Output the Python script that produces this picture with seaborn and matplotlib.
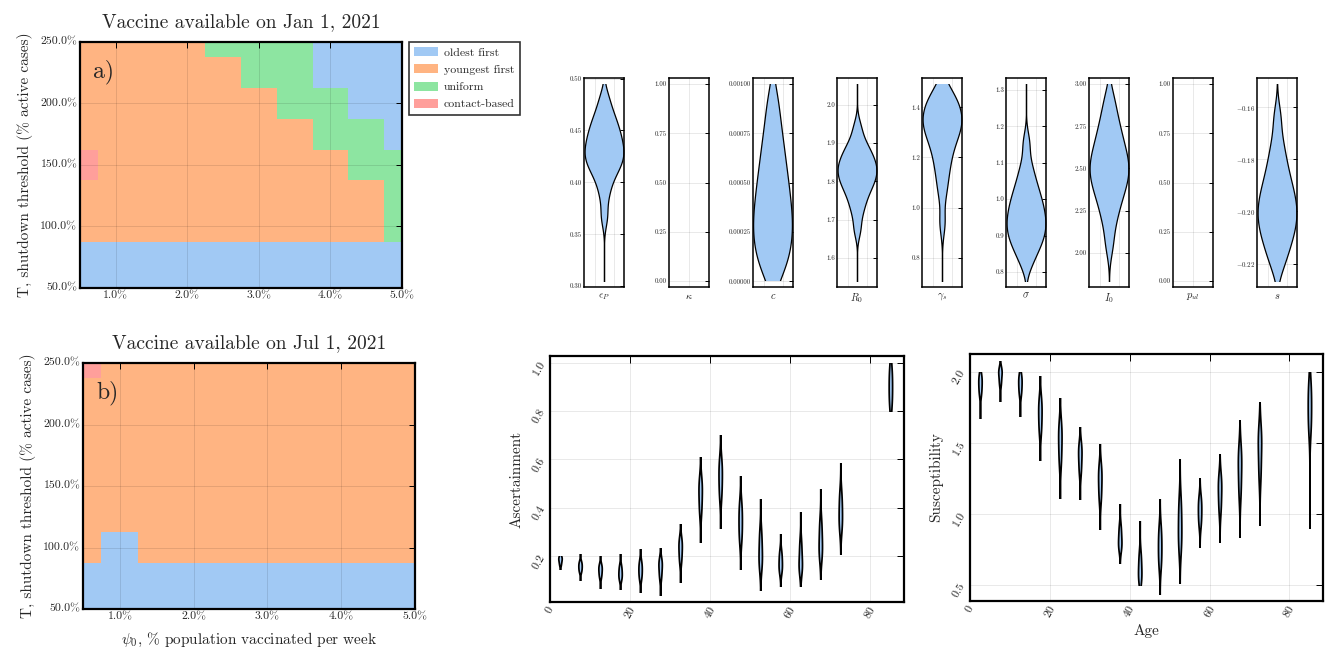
import numpy as np
import pandas as pd
import matplotlib
matplotlib.use("Agg")
import matplotlib.pyplot as plt
from matplotlib.colors import ListedColormap
from matplotlib.patches import Patch, Rectangle
import seaborn as sns

# ------------------------------------------------------------------
# Optimal vaccination strategy maps
# ------------------------------------------------------------------
strategies = ["oldest first", "youngest first", "uniform", "contact-based"]
psi_pct = [0.5, 1.0, 1.5, 2.0, 2.5, 3.0, 3.5, 4.0, 4.5, 5.0]
threshold_pct = [250, 225, 200, 175, 150, 125, 100, 75, 50]   # first row = top

# 0 = oldest first, 1 = youngest first, 2 = uniform, 3 = contact-based
best_jan = [
    [1, 1, 1, 1, 2, 2, 2, 0, 0, 0],
    [1, 1, 1, 1, 1, 2, 2, 0, 0, 0],
    [1, 1, 1, 1, 1, 1, 2, 2, 0, 0],
    [1, 1, 1, 1, 1, 1, 1, 2, 2, 0],
    [3, 1, 1, 1, 1, 1, 1, 1, 2, 2],
    [1, 1, 1, 1, 1, 1, 1, 1, 1, 2],
    [1, 1, 1, 1, 1, 1, 1, 1, 1, 2],
    [0, 0, 0, 0, 0, 0, 0, 0, 0, 0],
    [0, 0, 0, 0, 0, 0, 0, 0, 0, 0],
]
best_jul = [
    [3, 1, 1, 1, 1, 1, 1, 1, 1, 1],
    [1, 1, 1, 1, 1, 1, 1, 1, 1, 1],
    [1, 1, 1, 1, 1, 1, 1, 1, 1, 1],
    [1, 1, 1, 1, 1, 1, 1, 1, 1, 1],
    [1, 1, 1, 1, 1, 1, 1, 1, 1, 1],
    [1, 1, 1, 1, 1, 1, 1, 1, 1, 1],
    [1, 0, 1, 1, 1, 1, 1, 1, 1, 1],
    [0, 0, 0, 0, 0, 0, 0, 0, 0, 0],
    [0, 0, 0, 0, 0, 0, 0, 0, 0, 0],
]
psi_ticks = [1.0, 2.0, 3.0, 4.0, 5.0]
threshold_ticks = [50, 100, 150, 200, 250]

# ------------------------------------------------------------------
# Posterior samples (quantiles) and ranges of the global parameters
# ------------------------------------------------------------------
eps_p = [0.367, 0.387, 0.399, 0.4067, 0.4122, 0.4162, 0.4202, 0.4234,
         0.4265, 0.4297, 0.4333, 0.4369, 0.4406, 0.4446, 0.4486, 0.4531,
         0.4578, 0.4636, 0.4705, 0.4822]
kappa = []
c_rate = [0.000026, 0.000078, 0.000121, 0.000159, 0.000196, 0.000230,
          0.000263, 0.000296, 0.000331, 0.000366, 0.000402, 0.000441,
          0.000481, 0.000525, 0.000571, 0.000622, 0.000678, 0.000744,
          0.000821, 0.000928]
r0 = [1.6745, 1.7152, 1.739, 1.7572, 1.7726, 1.7838, 1.7941, 1.8035,
      1.8115, 1.8195, 1.8274, 1.8351, 1.8428, 1.8506, 1.86, 1.8694, 1.8802,
      1.8928, 1.9099, 1.9428]
gamma_s = [0.9414, 1.0554, 1.1138, 1.1574, 1.194, 1.2246, 1.2529,
           1.2732, 1.2934, 1.3095, 1.3235, 1.3375, 1.3515, 1.366, 1.3806,
           1.3951, 1.4121, 1.4305, 1.4488, 1.4773]
sigma = [0.8218, 0.8501, 0.8668, 0.8813, 0.8938, 0.9053, 0.916,
         0.9266, 0.9372, 0.9479, 0.9592, 0.9706, 0.9829, 0.9956, 1.0098,
         1.0248, 1.0436, 1.0661, 1.0969, 1.155]
i0 = [2.0483, 2.169, 2.2393, 2.2946, 2.3384, 2.3752, 2.4084, 2.4377,
      2.4653, 2.4915, 2.518, 2.5447, 2.574, 2.6044, 2.6392, 2.6778, 2.7211,
      2.7711, 2.8325, 2.9217]
p_ul = []
s_shift = [-0.22125, -0.2168, -0.2136, -0.2109, -0.2086, -0.2065,
           -0.2045, -0.20264, -0.20081, -0.1990, -0.1971, -0.19518, -0.19311,
           -0.19088, -0.18837, -0.18546, -0.18207, -0.17801, -0.17271,
           -0.16364]

param_labels = [r"$\epsilon_P$", r"$\kappa$", r"$c$", r"$R_0$", r"$\gamma_s$",
                r"$\sigma$", r"$I_0$", r"$p_{ul}$", r"$s$"]
param_samples = [eps_p, kappa, c_rate, r0, gamma_s, sigma, i0, p_ul, s_shift]
param_ranges = [(0.305, 0.495), None, (0.0, 0.001), (1.539, 2.055),
                (0.708, 1.492), (0.7752, 1.3165), (1.834, 3.0), None,
                (-0.2267, -0.151)]
param_ylims = [(0.299, 0.5006), (-0.03, 1.03), (-0.0000288, 0.00103),
               (1.524, 2.070), (0.684, 1.516), (0.759, 1.332),
               (1.798, 3.036), (-0.03, 1.03), (-0.229, -0.1488)]
param_ticks = [[0.30, 0.35, 0.40, 0.45, 0.50],
               [0.0, 0.25, 0.5, 0.75, 1.0],
               [0.0, 0.00025, 0.0005, 0.00075, 0.001],
               [1.6, 1.7, 1.8, 1.9, 2.0],
               [0.8, 1.0, 1.2, 1.4],
               [0.8, 0.9, 1.0, 1.1, 1.2, 1.3],
               [2.0, 2.25, 2.5, 2.75, 3.0],
               [0.0, 0.25, 0.5, 0.75, 1.0],
               [-0.22, -0.20, -0.18, -0.16]]
param_decimals = [2, 2, 5, 1, 1, 1, 2, 2, 2]

# ------------------------------------------------------------------
# Age-dependent posteriors: core samples and full ranges per age group
# ------------------------------------------------------------------
ages = [2.5, 7.5, 12.5, 17.5, 22.5, 27.5, 32.5, 37.5, 42.5, 47.5, 52.5,
        57.5, 62.5, 67.5, 72.5, 85.0]
asc_core = [
    [0.165, 0.178, 0.188, 0.195, 0.200],
    [0.137, 0.148, 0.159, 0.169, 0.179],
    [0.115, 0.130, 0.145, 0.156, 0.167],
    [0.105, 0.118, 0.131, 0.147, 0.163],
    [0.108, 0.127, 0.145, 0.162, 0.180],
    [0.111, 0.135, 0.159, 0.174, 0.189],
    [0.178, 0.206, 0.234, 0.254, 0.274],
    [0.380, 0.421, 0.461, 0.491, 0.520],
    [0.444, 0.487, 0.529, 0.563, 0.598],
    [0.266, 0.305, 0.344, 0.382, 0.419],
    [0.154, 0.184, 0.214, 0.258, 0.303],
    [0.135, 0.154, 0.173, 0.197, 0.221],
    [0.138, 0.158, 0.179, 0.220, 0.261],
    [0.196, 0.225, 0.255, 0.300, 0.345],
    [0.311, 0.345, 0.378, 0.420, 0.462],
    [0.820, 0.860, 0.900, 0.940, 0.980],
]
asc_range = [
    (0.148, 0.200), (0.104, 0.210), (0.070, 0.200), (0.066, 0.210),
    (0.053, 0.232), (0.039, 0.234), (0.094, 0.333), (0.259, 0.609),
    (0.317, 0.701), (0.149, 0.532), (0.063, 0.436), (0.079, 0.292),
    (0.076, 0.383), (0.107, 0.479), (0.211, 0.587), (0.800, 1.000),
]
sus_core = [
    [1.840, 1.880, 1.918, 1.950, 1.980],
    [1.910, 1.949, 1.988, 2.006, 2.024],
    [1.840, 1.880, 1.918, 1.950, 1.980],
    [1.574, 1.640, 1.706, 1.759, 1.811],
    [1.355, 1.437, 1.518, 1.578, 1.638],
    [1.289, 1.350, 1.412, 1.452, 1.492],
    [1.099, 1.167, 1.236, 1.288, 1.339],
    [0.750, 0.781, 0.813, 0.864, 0.915],
    [0.520, 0.560, 0.601, 0.660, 0.720],
    [0.632, 0.699, 0.766, 0.834, 0.902],
    [0.749, 0.828, 0.907, 1.002, 1.098],
    [0.921, 0.972, 1.024, 1.070, 1.116],
    [1.019, 1.092, 1.165, 1.216, 1.268],
    [1.132, 1.231, 1.330, 1.396, 1.462],
    [1.252, 1.361, 1.471, 1.534, 1.598],
    [1.580, 1.670, 1.753, 1.840, 1.920],
]
sus_range = [
    (1.676, 2.000), (1.793, 2.078), (1.687, 2.000), (1.377, 1.969),
    (1.111, 1.817), (1.104, 1.612), (0.893, 1.494), (0.655, 1.069),
    (0.500, 0.951), (0.432, 1.107), (0.512, 1.384), (0.766, 1.255),
    (0.799, 1.422), (0.836, 1.659), (0.923, 1.788), (0.902, 2.000),
]
age_ticks = [0, 20, 40, 60, 80]
asc_ticks = [0.2, 0.4, 0.6, 0.8, 1.0]
sus_ticks = [0.5, 1.0, 1.5, 2.0]

# ------------------------------------------------------------------
# Style
# ------------------------------------------------------------------
sns.set_theme(style="white")
plt.rcParams.update({
    "font.family": ["cmr10"],
    "mathtext.fontset": "cm",
    "axes.unicode_minus": False,
    "axes.formatter.use_mathtext": True,
})
pal = sns.color_palette("pastel")
strategy_colors = [pal[0], pal[1], pal[2], pal[3]]
cmap = ListedColormap(strategy_colors)
violin_blue = pal[0]

W, H = 1327, 656
fig = plt.figure(figsize=(W / 100, H / 100), dpi=100)


def rect(x0, y0, x1, y1):
    return [x0 / W, 1 - y1 / H, (x1 - x0) / W, (y1 - y0) / H]


def boxed(ax, lw=1.4, size=8, length=4, grid_alpha=0.1):
    for sp in ax.spines.values():
        sp.set_visible(True)
        sp.set_color("black")
        sp.set_linewidth(lw)
    ax.tick_params(direction="in", top=True, right=True, length=length,
                   width=0.7, color="black", labelsize=size, pad=2)
    ax.grid(True, color="black", alpha=grid_alpha, linewidth=0.6)


def fmt(v, d):
    if v < 0:
        return r"$-$" + f"{-v:.{d}f}"
    return f"{v:.{d}f}"


def clip_span(ax, coll, x0, x1, lo, hi):
    """Restrict a violin body to the observed range of its samples."""
    box = Rectangle((x0, lo), x1 - x0, hi - lo, transform=ax.transData)
    coll.set_clip_path(box)


# ------------------------------------------------------------------
# Strategy maps
# ------------------------------------------------------------------
def strategy_map(ax, grid, title, tag):
    df = pd.DataFrame(grid, index=threshold_pct, columns=psi_pct)
    sns.heatmap(df, ax=ax, cmap=cmap, vmin=-0.5, vmax=3.5, cbar=False)
    ax.set_xlim(psi_pct.index(psi_pct[0]) + 0.5, psi_pct.index(psi_pct[-1]) + 0.5)
    ax.set_ylim(threshold_pct.index(threshold_pct[-1]) + 0.5,
                threshold_pct.index(threshold_pct[0]) + 0.5)
    ax.set_xticks([psi_pct.index(v) + 0.5 for v in psi_ticks],
                  [f"{v:.1f}%" for v in psi_ticks], rotation=0)
    ax.set_yticks([threshold_pct.index(v) + 0.5 for v in threshold_ticks],
                  [f"{v:.1f}%" for v in threshold_ticks], rotation=0)
    boxed(ax, lw=1.6, size=8.5, grid_alpha=0.12)
    ax.set_axisbelow(False)
    ax.set_title(title, fontsize=14, pad=11)
    ax.set_ylabel("T, shutdown threshold (% active cases)", fontsize=11, labelpad=5)
    ax.set_xlabel("")
    ax.text(0.04, 0.88, tag, transform=ax.transAxes, fontsize=17,
            ha="left", va="center")


ax_a = fig.add_axes(rect(80, 42, 402, 288))
strategy_map(ax_a, best_jan, "Vaccine available on Jan 1, 2021", "a)")
handles = [Patch(facecolor=col, edgecolor="none") for col in strategy_colors]
leg = ax_a.legend(handles, strategies, loc="upper left",
                  bbox_to_anchor=(1.022, 1.0), borderaxespad=0,
                  fontsize=8.5, frameon=True, fancybox=False,
                  handlelength=2.0, handleheight=0.8, labelspacing=0.55,
                  borderpad=0.45, handletextpad=0.5)
leg.get_frame().set_edgecolor("black")
leg.get_frame().set_linewidth(1.2)

ax_b = fig.add_axes(rect(83, 363, 415, 609))
strategy_map(ax_b, best_jul, "Vaccine available on Jul 1, 2021", "b)")
ax_b.set_xlabel(r"$\psi_0$, % population vaccinated per week", fontsize=11, labelpad=7)

# ------------------------------------------------------------------
# Global parameter posteriors
# ------------------------------------------------------------------
param_left = [584, 669, 753, 837, 922, 1006, 1089, 1173, 1257]
for k in range(len(param_labels)):
    ax = fig.add_axes(rect(param_left[k], 78, param_left[k] + 40, 287))
    vals = param_samples[k]
    if len(vals) > 0:
        before = list(ax.collections)
        sns.violinplot(y=vals, ax=ax, color=violin_blue, saturation=1,
                       inner=None, cut=14, gridsize=800, bw_adjust=0.65,
                       density_norm="width", width=0.97,
                       linecolor="black", linewidth=0.9)
        lo, hi = param_ranges[k]
        for coll in ax.collections:
            if coll not in before:
                clip_span(ax, coll, -0.6, 0.6, lo, hi)
    ax.set_xlim(-0.5, 0.5)
    ax.set_ylim(*param_ylims[k])
    ax.set_yticks(param_ticks[k],
                  [fmt(v, param_decimals[k]) for v in param_ticks[k]])
    if len(vals) > 0:
        ax.set_xticks([-0.23, 0.25], ["", ""])
    else:
        ax.set_xticks([0.0], [""])
    boxed(ax, lw=1.1, size=5, length=3, grid_alpha=0.1)
    ax.tick_params(axis="x", length=0)
    ax.tick_params(axis="y", pad=1.5)
    ax.set_axisbelow(True)
    ax.set_ylabel("")
    ax.set_xlabel(param_labels[k], fontsize=7.5, labelpad=1)

# ------------------------------------------------------------------
# Age-dependent posteriors
# ------------------------------------------------------------------
def age_violins(ax, core, ranges, ylim, yticks, ylabel):
    rows = [(a, v) for a, vs in zip(ages, core) for v in vs]
    df = pd.DataFrame(rows, columns=["age", "value"])
    before = list(ax.collections)
    sns.violinplot(data=df, x="age", y="value", native_scale=True, ax=ax,
                   color=violin_blue, saturation=1, inner=None, cut=20,
                   gridsize=800, bw_adjust=1.0, density_norm="width",
                   width=0.17, linecolor="black", linewidth=1.25)
    for coll in ax.collections:
        if coll in before:
            continue
        xs = coll.get_paths()[0].vertices[:, 0]
        centre = 0.5 * (xs.min() + xs.max())
        i = int(np.argmin([abs(centre - a) for a in ages]))
        clip_span(ax, coll, ages[i] - 2.4, ages[i] + 2.4, *ranges[i])
    ax.set_xlim(0, 88.4)
    ax.set_ylim(*ylim)
    ax.set_xticks(age_ticks, [str(t) for t in age_ticks], rotation=60)
    ax.set_yticks(yticks, [f"{t:.1f}" for t in yticks], rotation=60)
    boxed(ax, lw=1.6, size=8.5, length=5, grid_alpha=0.1)
    ax.set_axisbelow(True)
    ax.set_ylabel(ylabel, fontsize=11, labelpad=6)
    ax.set_xlabel("")


ax_c = fig.add_axes(rect(550, 356, 904, 602))
age_violins(ax_c, asc_core, asc_range, (0.012, 1.027), asc_ticks, "Ascertainment")

ax_d = fig.add_axes(rect(970, 354, 1323, 601))
age_violins(ax_d, sus_core, sus_range, (0.385, 2.125), sus_ticks, "Susceptibility")
ax_d.set_xlabel("Age", fontsize=11, labelpad=4)

fig.savefig("out.png", dpi=100, facecolor="white")
